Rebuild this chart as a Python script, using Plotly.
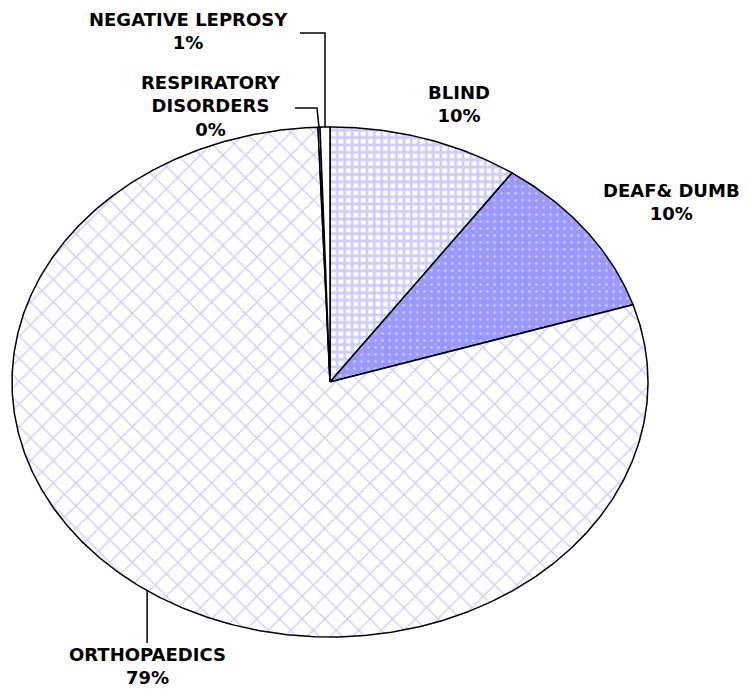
import numpy as np
import plotly.graph_objects as go

# data, clockwise from 12 o'clock
labels = ["BLIND", "DEAF& DUMB", "ORTHOPAEDICS", "RESPIRATORY<br>DISORDERS", "NEGATIVE LEPROSY"]
values = [9.7, 10.4, 79.3, 0.1, 0.5]

# look (page pixels; the page body has an 8px margin)
PAD = 8
CX, CY, RX, RY = 330, 382, 318, 255
FONT = dict(family="DejaVu Sans", size=18, color="black", weight="bold")
LAV = "#9999ff"

patterns = [
    dict(shape="+", bgcolor="white", fgcolor=LAV, size=7.4, solidity=0.6),
    dict(shape=".", bgcolor=LAV, fgcolor="white", size=7, solidity=0.1),
    dict(shape="x", bgcolor="white", fgcolor=LAV, size=16, solidity=0.16),
    dict(shape="", bgcolor="white", fgcolor="white"),
    dict(shape="", bgcolor="white", fgcolor="white"),
]

# label text centres and leader elbows (pixels)
label_xy = [(459, 104), (671, 202), (147, 666), (211, 106), (188, 31)]
leader_elbow = [None, None, [(None, 643)], [(295, 108), (317, 108)], [(300, 33), (None, 33)]]

total = sum(values)
edges = np.concatenate([[0], np.cumsum(values)]) / total * 2 * np.pi


def pt(t):
    return CX + RX * np.sin(t), CY - RY * np.cos(t)


fig = go.Figure()
for i, v in enumerate(values):
    t = np.linspace(edges[i], edges[i + 1], max(3, int(v * 8)))
    ax, ay = pt(t)
    xs = np.concatenate([[CX], ax, [CX]])
    ys = np.concatenate([[CY], ay, [CY]])
    fig.add_trace(go.Scatter(
        x=xs, y=ys, mode="lines", fill="toself",
        fillcolor=patterns[i]["bgcolor"], fillpattern=patterns[i],
        line=dict(color="black", width=1.5),
        hoverinfo="skip", showlegend=False,
    ))

for i, lab in enumerate(labels):
    pct = "%d%%" % int(np.floor(values[i] / total * 100 + 0.5))
    x, y = label_xy[i]
    fig.add_annotation(x=x, y=y, xref="x", yref="y", text=lab + "<br>" + pct,
                       showarrow=False, font=FONT, align="center")
    if leader_elbow[i]:
        ex, ey = pt((edges[i] + edges[i + 1]) / 2)
        px = [p[0] if p[0] is not None else ex for p in leader_elbow[i]] + [ex]
        py = [p[1] for p in leader_elbow[i]] + [ey]
        fig.add_trace(go.Scatter(x=px, y=py, mode="lines",
                                 line=dict(color="black", width=1.5),
                                 hoverinfo="skip", showlegend=False))

fig.update_layout(
    width=752 - PAD, height=692 - PAD,
    margin=dict(l=0, r=0, t=0, b=0),
    paper_bgcolor="white", plot_bgcolor="white",
    xaxis=dict(range=[PAD, 752], visible=False, fixedrange=True),
    yaxis=dict(range=[692, PAD], visible=False, fixedrange=True),
)

fig.write_html("out.html")
